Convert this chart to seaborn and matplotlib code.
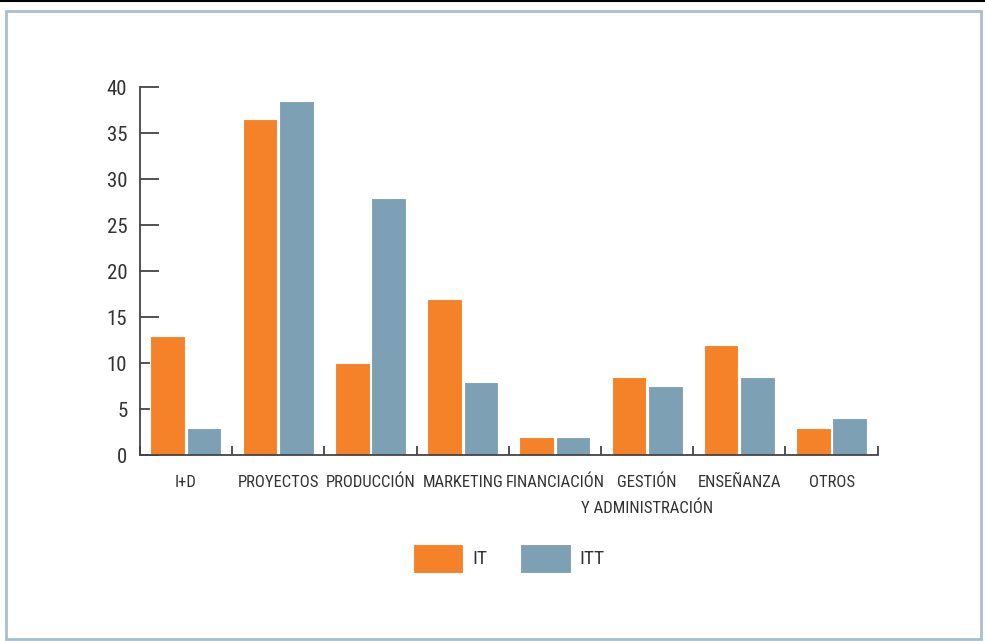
import numpy as np
import matplotlib
matplotlib.use("Agg")
import matplotlib.pyplot as plt
from matplotlib.patches import Rectangle
from matplotlib.lines import Line2D
import seaborn as sns
import pandas as pd

categorias = ["I+D", "PROYECTOS", "PRODUCCIÓN", "MARKETING", "FINANCIACIÓN",
              "GESTIÓN\nY ADMINISTRACIÓN", "ENSEÑANZA", "OTROS"]
valores_it = [13, 36.5, 10, 17, 2, 8.5, 12, 3]
valores_itt = [3, 38.5, 28, 8, 2, 7.5, 8.5, 4]
series = ["IT", "ITT"]
colores = ["#F58228", "#7EA0B4"]

df = pd.DataFrame({
    "categoria": categorias * 2,
    "valor": valores_it + valores_itt,
    "serie": ["IT"] * len(categorias) + ["ITT"] * len(categorias),
})

sns.set_style("white")
plt.rcParams["font.family"] = ["Roboto Condensed", "DejaVu Sans"]
plt.rcParams["font.stretch"] = "condensed"
plt.rcParams["text.color"] = "#333333"

fig = plt.figure(figsize=(9.85, 6.41), dpi=100)
ax = fig.add_axes([0.142, 0.290, 0.749, 0.574])

sns.barplot(data=df, x="categoria", y="valor", hue="serie", hue_order=series,
            palette=colores, width=0.79, gap=0.05, edgecolor="white",
            linewidth=0.8, saturation=1, ax=ax)

ax.set_xlim(-0.5, len(categorias) - 0.5)
ax.set_ylim(0, 40)
ax.set_yticks(range(0, 41, 5))
ax.set_xlabel("")
ax.set_ylabel("")

for s in ["top", "right"]:
    ax.spines[s].set_visible(False)
for s in ["left", "bottom"]:
    ax.spines[s].set_color("#444444")
    ax.spines[s].set_linewidth(1.3)

ax.tick_params(axis="y", left=True, direction="in", length=13.5, width=1.3,
               color="#444444", labelsize=15, labelcolor="#333333", pad=9)

# primera línea como etiqueta del eje, la segunda (si la hay) como texto aparte
ax.set_xticks(range(len(categorias)))
ax.set_xticklabels([c.split("\n")[0] for c in categorias])
ax.tick_params(axis="x", which="major", bottom=True, length=0, labelsize=12,
               labelcolor="#333333", pad=14)
for i, c in enumerate(categorias):
    partes = c.split("\n")
    if len(partes) > 1:
        ax.annotate(partes[1], xy=(i, 0), xycoords=("data", "axes fraction"),
                    xytext=(0, -44), textcoords="offset points", ha="center",
                    va="bottom", fontsize=12, color="#333333")

ax.set_xticks(np.arange(-0.5, len(categorias), 1.0), minor=True)
ax.tick_params(axis="x", which="minor", bottom=True, direction="in", length=6.5,
               width=1.3, color="#444444")

handles, labels = ax.get_legend_handles_labels()
ax.legend(handles, labels, loc="center", bbox_to_anchor=(0.5, -0.28), ncol=2,
          frameon=False, fontsize=14, handlelength=2.6, handleheight=1.9,
          handletextpad=0.45, columnspacing=1.7)

# marco exterior
fig.add_artist(Rectangle((6 / 985, 2 / 641), 975 / 985, 628 / 641,
                         transform=fig.transFigure, fill=False,
                         edgecolor="#A9BFCD", linewidth=2))
fig.add_artist(Line2D([0, 1], [1 - 1 / 641, 1 - 1 / 641],
                      transform=fig.transFigure, color="black", linewidth=1.5))

fig.savefig("out.png", dpi=100)
